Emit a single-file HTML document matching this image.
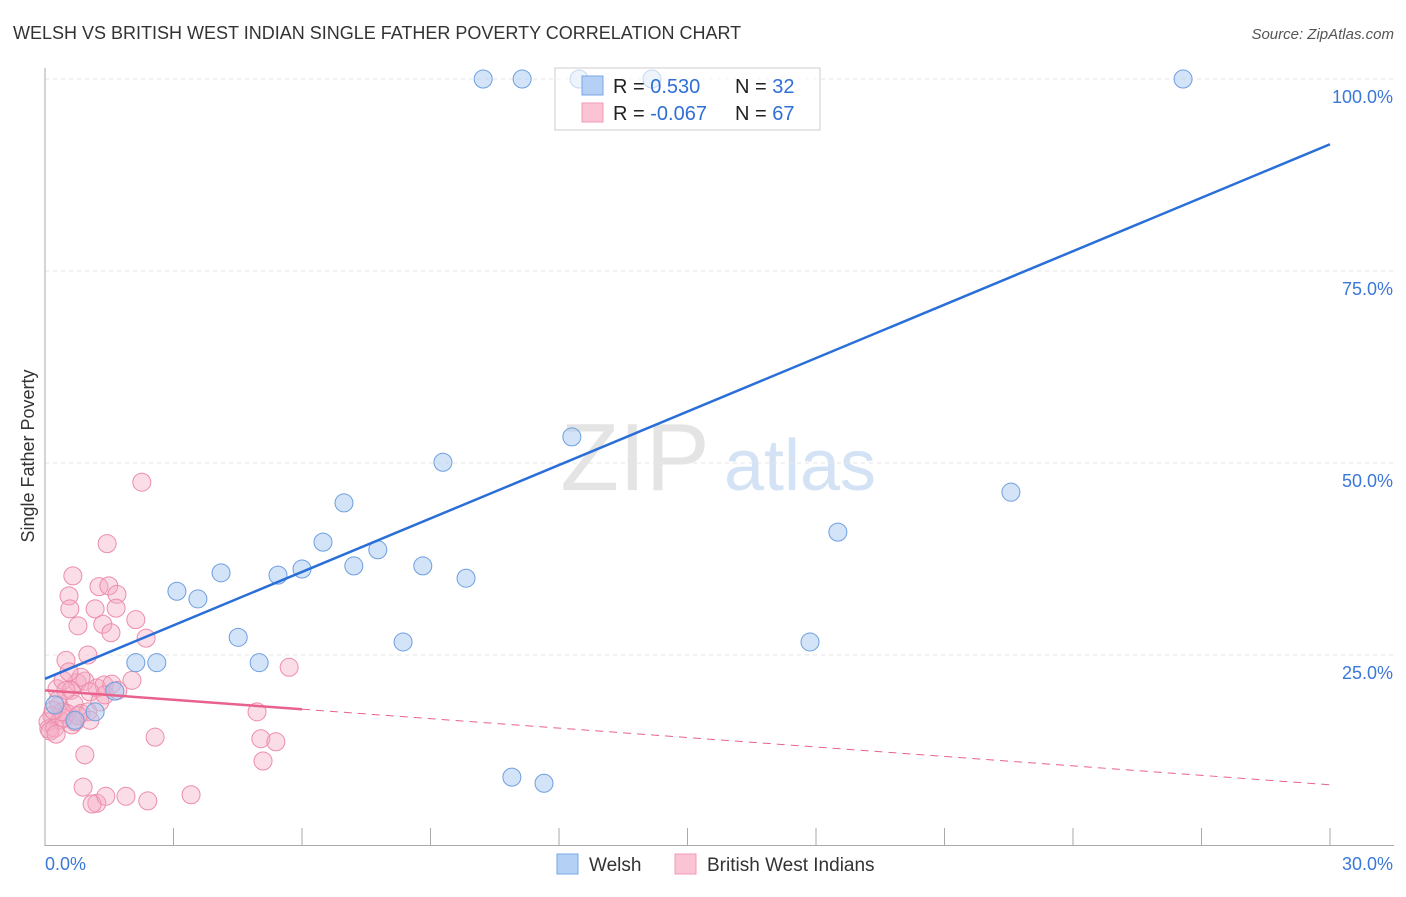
<!DOCTYPE html>
<html><head><meta charset="utf-8"><style>
body{margin:0;background:#fff;font-family:"Liberation Sans",sans-serif;}
svg text{font-family:"Liberation Sans",sans-serif;}
</style></head><body>
<svg id="chart" width="1406" height="892" xmlns="http://www.w3.org/2000/svg">
<text x="13" y="39" font-size="18" fill="#333">WELSH VS BRITISH WEST INDIAN SINGLE FATHER POVERTY CORRELATION CHART</text>
<text x="1394" y="39" font-size="15" fill="#555" text-anchor="end" font-style="italic">Source: ZipAtlas.com</text>
<text transform="translate(34,456) rotate(-90)" font-size="18" fill="#333" text-anchor="middle">Single Father Poverty</text>
<g>
<text x="635" y="490" font-size="96" fill="#e4e4e4" text-anchor="middle" font-family="Liberation Serif,serif">ZIP</text>
<text x="800" y="490" font-size="72" fill="#d3e2f4" text-anchor="middle">atlas</text>
</g>
<g id="grid"></g>
<g id="axes"></g>
<g id="pink"></g>
<g id="blue"></g>
<g id="trends"></g>
<g>
<rect x="555" y="68" width="265" height="62" fill="rgba(255,255,255,0.6)" stroke="#ccc"/>
<rect x="582" y="76" width="21" height="19" fill="#b5d0f5" stroke="#7aa6e6"/>
<rect x="582" y="103" width="21" height="19" fill="#fbc4d4" stroke="#f09ab5"/>
<text x="613" y="93" font-size="20" fill="#222">R = <tspan fill="#2f6fd6"> 0.530</tspan></text>
<text x="735" y="93" font-size="20" fill="#222">N = <tspan fill="#2f6fd6">32</tspan></text>
<text x="613" y="120" font-size="20" fill="#222">R = <tspan fill="#2f6fd6">-0.067</tspan></text>
<text x="735" y="120" font-size="20" fill="#222">N = <tspan fill="#2f6fd6">67</tspan></text>
</g>
<g>
<rect x="557" y="854" width="21" height="20" fill="#b5d0f5" stroke="#7aa6e6"/>
<text x="589" y="871" font-size="19" fill="#333">Welsh</text>
<rect x="675" y="854" width="21" height="20" fill="#fbc4d4" stroke="#f09ab5"/>
<text x="707" y="871" font-size="19" fill="#333">British West Indians</text>
</g>
</svg>
<script>
const welshX=[10.23,11.14,12.47,14.17,26.57,12.30,9.29,6.98,6.49,7.77,7.21,8.82,9.83,5.44,6.00,4.11,3.08,3.57,4.51,8.36,5.00,2.12,2.61,1.63,1.17,0.70,0.23,10.90,11.65,18.51,22.55,17.86];
const welshY=[100,100,100,100,100,53.4,50.1,44.8,39.7,38.7,36.6,36.6,35.0,35.4,36.2,35.7,33.3,32.3,27.3,26.7,24.0,24.0,24.0,20.3,17.6,16.5,18.5,9.1,8.3,41.0,46.2,26.7];
const bwiX=[2.26,1.45,0.65,1.26,1.49,1.68,0.56,0.58,1.17,1.66,2.12,0.77,1.35,1.54,2.36,0.49,1.00,5.70,0.28,0.75,0.93,0.42,1.21,1.38,1.56,2.03,0.84,1.05,0.61,1.28,0.33,0.68,0.51,0.84,0.16,0.07,0.35,0.63,0.09,0.23,4.95,0.93,2.57,5.04,5.39,5.09,0.89,1.21,1.10,1.42,1.89,2.40,3.41,1.00,0.44,0.12,0.26,0.70,1.05,0.49,0.30,1.40,1.70,0.40,0.77,0.19,0.56];
const bwiY=[47.5,39.5,35.3,33.9,34.0,32.9,32.7,31.0,31.0,31.1,29.6,28.8,29.0,27.9,27.2,24.3,25.0,23.4,20.6,21.4,21.6,21.7,20.7,21.1,21.2,21.7,22.1,20.2,20.4,18.9,18.4,18.6,17.4,17.4,17.1,16.3,16.5,15.9,15.4,15.5,17.6,12.0,14.3,14.1,13.7,11.2,7.8,5.7,5.6,6.6,6.6,6.0,6.8,17.6,16.8,15.1,14.7,16.3,16.5,20.4,19.1,19.8,20.4,17.6,17.1,17.8,22.8];
const welshTrend=[21.9,2.32];
const bwiTrend=[20.4,-0.41];
const yTicks=[25,50,75,100];
const xTickLabels=["0.0%","30.0%"];
const NS="http://www.w3.org/2000/svg";
const sx=v=>45+v*(1285/30), sy=v=>847-v*7.68;
function mk(tag,parent,attrs){const e=document.createElementNS(NS,tag);for(const k in attrs)e.setAttribute(k,attrs[k]);document.getElementById(parent).appendChild(e);return e;}
yTicks.forEach(t=>{
 const l=mk('line','grid',{x1:45,x2:1394,y1:sy(t),y2:sy(t),stroke:'#e6e6e6','stroke-dasharray':'4,4'});
 
 
 const tx=mk('text','grid',{x:1393,y:sy(t)+24,'font-size':18,fill:'#3a78d8','text-anchor':'end'});
 tx.textContent=t.toFixed(1)+'%';
 
 
});
let a=mk('line','axes',{x1:45,x2:45,y1:68,y2:846,stroke:'#aaa'});


a=mk('line','axes',{x1:45,x2:1394,y1:845.5,y2:845.5,stroke:'#aaa'});


for(let i=0;i<=10;i++){const t=mk('line','axes',{x1:sx(i*3),x2:sx(i*3),y1:828,y2:846,stroke:'#aaa'});
 
 }
[[0,xTickLabels[0],'start',45],[30,xTickLabels[1],'end',1393]].forEach(d=>{
 const t=mk('text','axes',{x:d[3],y:870,'font-size':18,fill:'#3a78d8','text-anchor':d[2]});
 t.textContent=d[1];
 
 });
bwiX.forEach((x,i)=>{const c=mk('circle','pink',{cx:sx(x),cy:sy(bwiY[i]),r:9,fill:'rgba(246,170,196,0.4)',stroke:'#ec8dab','stroke-width':1});
 
 });
welshX.forEach((x,i)=>{const c=mk('circle','blue',{cx:sx(x),cy:sy(welshY[i]),r:9,fill:'rgba(168,200,242,0.5)',stroke:'#6d9fe0','stroke-width':1});
 
 });
let t=mk('line','trends',{x1:sx(0),y1:sy(welshTrend[0]),x2:sx(30),y2:sy(welshTrend[0]+30*welshTrend[1]),stroke:'#2a6fd8','stroke-width':2.5});


t=mk('line','trends',{x1:sx(0),y1:sy(bwiTrend[0]),x2:sx(6),y2:sy(bwiTrend[0]+6*bwiTrend[1]),stroke:'#e8628d','stroke-width':2.5});


t=mk('line','trends',{x1:sx(6),y1:sy(bwiTrend[0]+6*bwiTrend[1]),x2:sx(30),y2:sy(bwiTrend[0]+30*bwiTrend[1]),stroke:'#e8628d','stroke-width':1,'stroke-dasharray':'8,6'});


</script>
</body></html>
